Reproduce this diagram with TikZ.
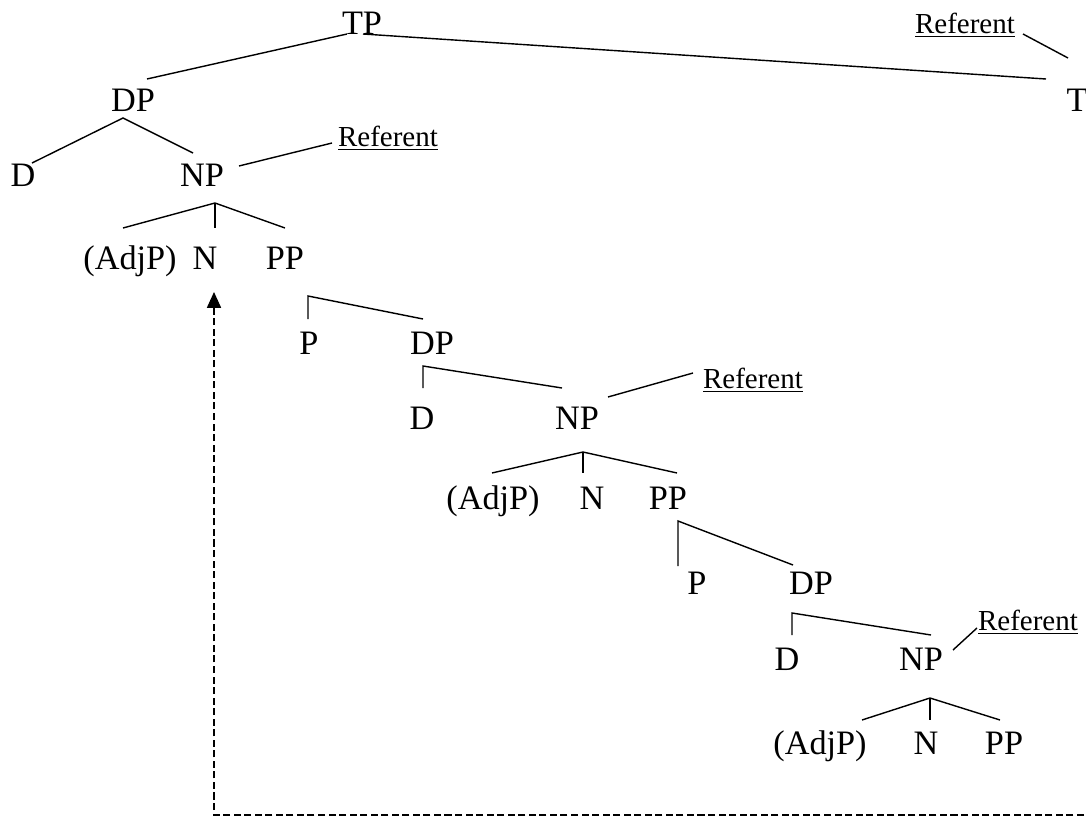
\documentclass[tikz,border=0pt]{standalone}
\usepackage{fontspec}
\setmainfont{Liberation Serif}
\usepackage{tikz}
\usetikzlibrary{arrows.meta, positioning}

\begin{document}
\begin{tikzpicture}[
  x=0.02cm, y=-0.02cm,
  cat/.style={
    font=\fontsize{19.5}{23}\selectfont,
    text height=13pt,
    text depth=0pt,
    inner sep=0pt
  },
  ref/.style={font=\fontsize{16.5}{19}\selectfont, inner sep=0pt},
  branch/.style={line width=0.8pt},
  trace/.style={line width=0.8pt, dash pattern=on 4pt off 2pt,
    -{Triangle[length=9pt, width=8pt]}}
]
\useasboundingbox (0,0) rectangle (1086,818);

% Noeuds
\node[cat] (tp) at (362,23) {TP};
\node[cat] (t) at (1077,100) {T};
\node[ref] (refT) at (965,25) {\underline{Referent}};

\node[cat] (dpA) at (133,100) {DP};
\node[cat] (dA) at (23,175) {D};
\node[cat] (npA) at (202,175) {NP};
\node[ref] (refA) at (388,138) {\underline{Referent}};
\node[cat] (adjA) at (130,258) {(AdjP)};
\node[cat] (nA) at (205,258) {N};
\node[cat] (ppA) at (285,258) {PP};

\node[cat] (pB) at (309,343) {P};
\node[cat] (dpB) at (432,343) {DP};
\node[cat] (dB) at (422,418) {D};
\node[cat] (npB) at (577,418) {NP};
\node[ref] (refB) at (753,380) {\underline{Referent}};
\node[cat] (adjB) at (493,498) {(AdjP)};
\node[cat] (nB) at (592,498) {N};
\node[cat] (ppB) at (668,498) {PP};

\node[cat] (pC) at (697,583) {P};
\node[cat] (dpC) at (811,583) {DP};
\node[cat] (dC) at (787,659) {D};
\node[cat] (npC) at (921,659) {NP};
\node[ref] (refC) at (1028,622) {\underline{Referent}};
\node[cat] (adjC) at (820,743) {(AdjP)};
\node[cat] (nC) at (926,743) {N};
\node[cat] (ppC) at (1004,743) {PP};

% Points de branchement
\coordinate (dpA-b) at (123,118);
\coordinate (npA-b) at (215,203);
\coordinate (ppA-b) at (308,296);
\coordinate (dpB-b) at (423,366);
\coordinate (npB-b) at (583,452);
\coordinate (ppB-b) at (678,521);
\coordinate (dpC-b) at (792,613);
\coordinate (npC-b) at (930,698);
\coordinate (traceEnd) at (1084,815);

% Branches
\draw[branch] ([shift={(-15,11)}]tp.center) -- ([shift={(14,-21)}]dpA.center);
\draw[branch] ([shift={(1,11)}]tp.center) -- ([shift={(-31,-21)}]t.center);
\draw[branch] ([shift={(58,9)}]refT.center) -- ([shift={(-9,-42)}]t.center);

\draw[branch] ([shift={(9,-12)}]dA.center) -- (dpA-b)
  -- ([shift={(-9,-22)}]npA.center);
\draw[branch] ([shift={(37,-9)}]npA.center) -- ([shift={(-56,5)}]refA.center);
\draw[branch] ([shift={(-7,-30)}]adjA.center) -- (npA-b)
  -- ([shift={(0,-30)}]ppA.center);
\draw[branch] (npA-b) -- ([shift={(10,-30)}]nA.center);

\draw[branch] ([shift={(-1,-24)}]pB.center) -- (ppA-b)
  -- ([shift={(-9,-24)}]dpB.center);
\draw[branch] ([shift={(1,-30)}]dB.center) -- (dpB-b)
  -- ([shift={(-15,-30)}]npB.center);
\draw[branch] ([shift={(31,-21)}]npB.center) -- ([shift={(-60,-7)}]refB.center);
\draw[branch] ([shift={(-1,-25)}]adjB.center) -- (npB-b)
  -- ([shift={(9,-25)}]ppB.center);
\draw[branch] (npB-b) -- ([shift={(-9,-25)}]nB.center);

\draw[branch] ([shift={(-19,-17)}]pC.center) -- (ppB-b)
  -- ([shift={(-18,-18)}]dpC.center);
\draw[branch] ([shift={(5,-24)}]dC.center) -- (dpC-b)
  -- ([shift={(10,-24)}]npC.center);
\draw[branch] ([shift={(32,-9)}]npC.center) -- ([shift={(-51,6)}]refC.center);
\draw[branch] ([shift={(42,-23)}]adjC.center) -- (npC-b)
  -- ([shift={(-4,-23)}]ppC.center);
\draw[branch] (npC-b) -- ([shift={(4,-23)}]nC.center);

% Fleche
\draw[trace] (traceEnd) -| ([shift={(9,34)}]nA.center);

\end{tikzpicture}
\end{document}
